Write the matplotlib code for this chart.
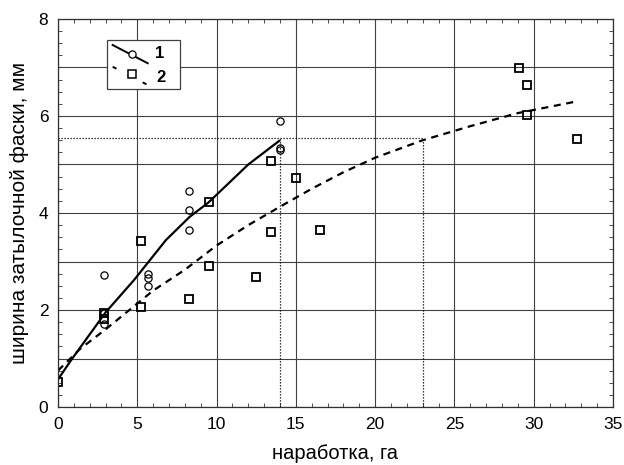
import matplotlib
matplotlib.use("Agg")
import matplotlib.pyplot as plt
from matplotlib.ticker import MultipleLocator, FuncFormatter
from matplotlib.patches import Rectangle
from matplotlib.lines import Line2D

plt.rcParams['font.family'] = ['Liberation Sans', 'DejaVu Sans']

# series 1 (circles)
x1 = [2.9, 2.9, 2.9, 5.7, 5.7, 5.7, 8.25, 8.25, 8.25, 14.0, 14.0, 14.0]
y1 = [2.72, 1.93, 1.72, 2.74, 2.67, 2.5, 4.45, 4.06, 3.65, 5.9, 5.35, 5.3]
# series 2 (squares)
x2 = [0.0, 2.9, 2.9, 5.25, 5.25, 8.28, 9.5, 9.5, 12.5, 13.45, 13.45, 15.0, 16.5, 29.05, 29.6, 29.6, 32.7]
y2 = [0.51, 1.94, 1.82, 3.42, 2.06, 2.23, 4.22, 2.91, 2.69, 5.08, 3.61, 4.73, 3.64, 6.99, 6.63, 6.03, 5.52]

# fitted curves
cx1 = [0.0, 0.9, 3.0, 4.8, 6.8, 8.3, 9.5, 12.0, 14.0]
cy1 = [0.57, 1.0, 1.95, 2.62, 3.44, 3.92, 4.22, 5.0, 5.5]
cx2 = [0.0, 1.4, 3.0, 4.5, 6.0, 8.0, 10.0, 12.0, 14.0, 16.0, 18.0, 20.0, 23.0, 26.0, 29.0, 32.7]
cy2 = [0.75, 1.2, 1.6, 2.0, 2.4, 2.83, 3.33, 3.75, 4.13, 4.5, 4.84, 5.14, 5.5, 5.79, 6.06, 6.3]

# reference (dotted) lines
ref_y = 5.54
ref_x = [14.0, 23.0]

xlabel = "наработка, га"
ylabel = "ширина затылочной фаски, мм"
legend_labels = ["1", "2"]

fig = plt.figure(figsize=(6.24, 4.65), dpi=100)
ax = fig.add_axes([58/624, 1-407/465, 555/624, 388/465])
ax.set_xlim(0, 35)
ax.set_ylim(0, 8)

gridc = '#404040'
ax.xaxis.set_major_locator(MultipleLocator(5))
ax.yaxis.set_major_locator(MultipleLocator(1))
ax.xaxis.set_minor_locator(MultipleLocator(1))
ax.yaxis.set_minor_locator(MultipleLocator(0.25))
ax.yaxis.set_major_formatter(FuncFormatter(lambda v, p: f"{int(round(v))}" if int(round(v)) % 2 == 0 else ""))
ax.grid(True, which='major', color=gridc, lw=0.8)
ax.set_axisbelow(True)
ax.tick_params(which='major', length=0, labelsize=12.5, pad=7)
ax.tick_params(which='minor', direction='in', length=3, width=0.6, color='#333333',
               top=True, right=True, bottom=True, left=True)
for s in ax.spines.values():
    s.set_color('#303030')
    s.set_linewidth(0.9)

ax.set_xlabel(xlabel, fontsize=14.5, labelpad=9)
ax.set_ylabel(ylabel, fontsize=15, labelpad=7)

# dotted reference lines
ax.plot([0, ref_x[1]], [ref_y, ref_y], color='black', lw=0.9, ls=(0, (1, 1.4)))
for rx in ref_x:
    ax.plot([rx, rx], [0, ref_y], color='black', lw=0.9, ls=(0, (1, 1.4)))

ax.plot(cx1, cy1, color='black', lw=1.6, solid_capstyle='butt')
ax.plot(cx2, cy2, color='black', lw=1.6, ls=(0, (3.2, 2.5)))

ax.plot(x1, y1, ls='none', marker='o', ms=5.2, mfc='none', mec='black', mew=0.9)
ax.plot(x2, y2, ls='none', marker='s', ms=6.2, mfc='none', mec='black', mew=1.3)

# legend box (Statistica style, diagonal samples)
T = ax.transAxes
ax.add_patch(Rectangle((0.0883, 0.820), 0.1315, 0.126, transform=T,
                       facecolor='white', edgecolor='#404040', lw=0.9, zorder=5))
ax.add_line(Line2D([0.0985, 0.1616], [0.933, 0.886], transform=T, color='black', lw=1.4, zorder=6))
ax.add_line(Line2D([0.1327], [0.910], transform=T, ls='none', marker='o', ms=5.2,
                   mfc='white', mec='black', mew=0.9, zorder=7))
ax.add_line(Line2D([0.0985, 0.1616], [0.877, 0.830], transform=T, color='black', lw=1.4,
                   ls=(0, (2.2, 6.5)), zorder=6))
ax.add_line(Line2D([0.1337], [0.858], transform=T, ls='none', marker='s', ms=6,
                   mfc='white', mec='black', mew=1.1, zorder=7))
ax.text(0.183, 0.912, legend_labels[0], transform=T, fontsize=12, fontweight='bold',
        ha='center', va='center', zorder=8)
ax.text(0.185, 0.849, legend_labels[1], transform=T, fontsize=12, fontweight='bold',
        ha='center', va='center', zorder=8)

fig.savefig("out.png", dpi=100)
